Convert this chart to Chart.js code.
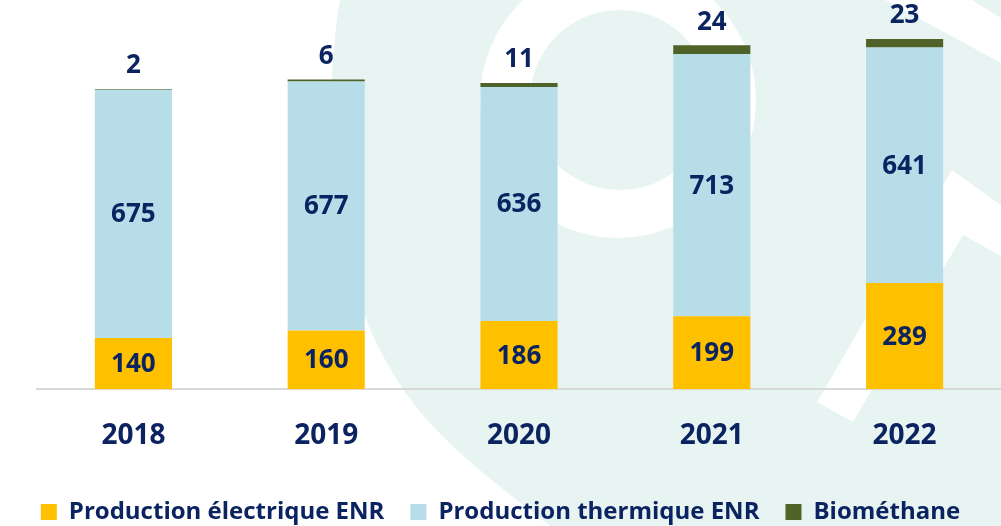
<!DOCTYPE html>
<html lang="fr">
<head>
<meta charset="utf-8">
<script src="https://cdn.jsdelivr.net/npm/chart.js@4.4.0/dist/chart.umd.min.js"></script>
<style>
  html, body { margin: 0; padding: 0; background: #fff; }
  #wrap { width: 1001px; height: 526px; position: relative; }
</style>
</head>
<body>
<div id="wrap"><canvas id="graf"></canvas></div>
<script>
// Données
const annees = ['2018', '2019', '2020', '2021', '2022'];
const prodElectrique = [140, 160, 186, 199, 289];
const prodThermique = [675, 677, 636, 713, 641];
const biomethane = [2, 6, 11, 24, 23];

const NAVY = '#0b2461';
const FONT = '"Open Sans", "DejaVu Sans", sans-serif';

// Fond : filigrane vert clair
const fondPlugin = {
  id: 'fond',
  beforeDraw(chart) {
    const ctx = chart.ctx;
    ctx.save();
    ctx.fillStyle = '#ffffff';
    ctx.fillRect(0, 0, chart.width, chart.height);
    ctx.fillStyle = '#e7f4f1';
    ctx.beginPath();
    ctx.moveTo(340, 0);
    ctx.bezierCurveTo(322, 110, 330, 250, 380, 350);
    ctx.bezierCurveTo(420, 430, 480, 470, 550, 526);
    ctx.lineTo(1001, 526);
    ctx.lineTo(1001, 0);
    ctx.closePath();
    ctx.fill();
    // anneau blanc
    ctx.fillStyle = '#ffffff';
    ctx.beginPath();
    ctx.arc(618, 100, 138, 0, Math.PI * 2);
    ctx.fill();
    ctx.fillStyle = '#e7f4f1';
    ctx.beginPath();
    ctx.arc(620, 100, 90, 0, Math.PI * 2);
    ctx.fill();
    // chevron blanc
    ctx.fillStyle = '#ffffff';
    ctx.beginPath();
    ctx.moveTo(817, 402);
    ctx.lineTo(952, 170);
    ctx.lineTo(1001, 205);
    ctx.lineTo(1001, 256);
    ctx.lineTo(963, 235);
    ctx.lineTo(853, 422);
    ctx.closePath();
    ctx.fill();
    ctx.beginPath();
    ctx.moveTo(885, 0);
    ctx.lineTo(972, 0);
    ctx.lineTo(1001, 18);
    ctx.lineTo(1001, 63);
    ctx.closePath();
    ctx.fill();
    ctx.restore();
  }
};

// Étiquettes de valeurs
const etiquettesPlugin = {
  id: 'etiquettes',
  afterDatasetsDraw(chart) {
    const ctx = chart.ctx;
    ctx.save();
    ctx.fillStyle = NAVY;
    ctx.font = 'bold 26px ' + FONT;
    ctx.textAlign = 'center';
    ctx.textBaseline = 'middle';
    chart.data.datasets.forEach((ds, i) => {
      const meta = chart.getDatasetMeta(i);
      meta.data.forEach((bar, j) => {
        const v = ds.data[j];
        if (i === 2) {
          ctx.fillText(v, bar.x, bar.y - 23);
        } else {
          ctx.fillText(v, bar.x, (bar.y + bar.base) / 2 + 1);
        }
      });
    });
    ctx.restore();
  }
};

const chart = new Chart(document.getElementById('graf'), {
  type: 'bar',
  data: {
    labels: annees,
    datasets: [
      { label: 'Production électrique ENR', data: prodElectrique, backgroundColor: '#ffc000' },
      { label: 'Production thermique ENR', data: prodThermique, backgroundColor: '#b7dee8' },
      { label: 'Biométhane', data: biomethane, backgroundColor: '#4f6228' }
    ]
  },
  options: {
    responsive: true,
    maintainAspectRatio: false,
    animation: false,
    barPercentage: 0.4,
    categoryPercentage: 1.0,
    layout: { padding: { left: 0, right: 0, top: 18, bottom: -8 } },
    scales: {
      x: {
        stacked: true,
        grid: { display: false },
        border: { display: true, color: '#d9d9d9', width: 2 },
        ticks: { color: NAVY, font: { family: FONT, size: 28, weight: 'bold', lineHeight: 1.38 }, padding: 19 }
      },
      y: {
        stacked: true,
        min: 0,
        max: 1010,
        grid: { display: false },
        border: { display: false },
        ticks: { display: false },
        afterFit(scale) { scale.width = 37; }
      }
    },
    plugins: {
      legend: {
        position: 'bottom',
        labels: {
          color: NAVY,
          font: { family: FONT, size: 24, weight: 'bold' },
          boxWidth: 16,
          boxHeight: 16,
          padding: 26
        }
      },
      tooltip: { enabled: false }
    }
  },
  plugins: [fondPlugin, etiquettesPlugin]
});
</script>
</body>
</html>
